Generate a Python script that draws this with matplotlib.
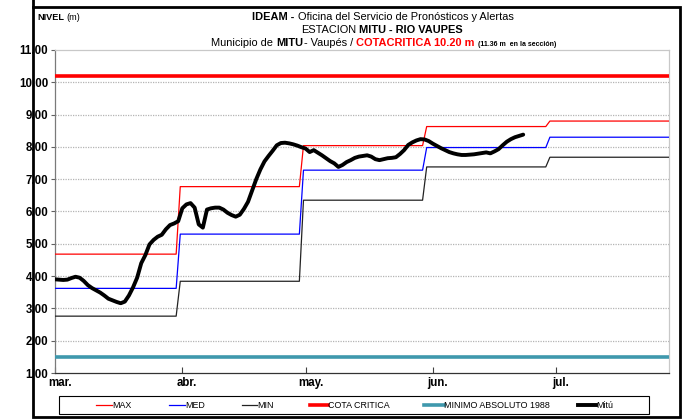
import matplotlib
matplotlib.use("Agg")
import matplotlib.pyplot as plt
from matplotlib import font_manager
from matplotlib.lines import Line2D
from matplotlib.patches import Rectangle
import numpy as np

# ---------------------------------------------------------------- data
month_days = [0, 31, 61, 92, 122]
month_labels = ["mar.", "abr.", "may.", "jun.", "jul."]

# climatological monthly levels (m); a new month level starts on these days
step_days = [30, 60, 90, 120]
max_vals = [4.68, 6.77, 8.04, 8.63, 8.80]
med_vals = [3.62, 5.30, 7.28, 7.98, 8.30]
min_vals = [2.76, 3.84, 6.35, 7.38, 7.68]

cota_critica = 10.20
minimo_absoluto = 1.48

# daily level at Mitú (m), day 0 = 1 March
mitu = [3.90, 3.89, 3.88, 3.89, 3.94, 3.98, 3.95, 3.85, 3.72, 3.63,
        3.56, 3.49, 3.40, 3.30, 3.25, 3.20, 3.16, 3.21, 3.40, 3.65,
        3.95, 4.40, 4.65, 4.98, 5.12, 5.22, 5.28, 5.45, 5.58, 5.63,
        5.70, 6.10, 6.22, 6.26, 6.12, 5.60, 5.50, 6.06, 6.10, 6.12,
        6.12, 6.06, 5.96, 5.89, 5.84, 5.90, 6.08, 6.30, 6.65, 7.00,
        7.30, 7.55, 7.72, 7.88, 8.05, 8.12, 8.13, 8.11, 8.08, 8.04,
        7.99, 7.95, 7.84, 7.90, 7.82, 7.74, 7.65, 7.56, 7.49, 7.38,
        7.44, 7.53, 7.59, 7.66, 7.70, 7.72, 7.74, 7.70, 7.62, 7.59,
        7.62, 7.65, 7.66, 7.68, 7.78, 7.90, 8.06, 8.14, 8.20, 8.24,
        8.23, 8.18, 8.10, 8.03, 7.96, 7.90, 7.84, 7.80, 7.77, 7.75,
        7.75, 7.76, 7.77, 7.79, 7.81, 7.83, 7.80, 7.86, 7.93, 8.05,
        8.16, 8.24, 8.30, 8.34, 8.38]

y_ticks = [1, 2, 3, 4, 5, 6, 7, 8, 9, 10, 11]
x_end = 149.5

# ---------------------------------------------------------------- fonts
names = {f.name for f in font_manager.fontManager.ttflist}
REG = "Liberation Sans" if "Liberation Sans" in names else "DejaVu Sans"
NAR = "Liberation Sans Narrow" if "Liberation Sans Narrow" in names else REG
TS = 8.8 if NAR != REG else 7.9     # header text size
LS = 7.0 if NAR != REG else 6.4     # legend text size

W, H = 686, 420
fig = plt.figure(figsize=(W / 100, H / 100), dpi=100)


def fx(px):
    return px / W


def fy(py):
    return 1 - py / H


# plot area
L, R, T, B = 55, 669, 50, 373
ax = fig.add_axes([fx(L), fy(B), fx(R) - fx(L), fy(T) - fy(B)])


def step_line(vals):
    xs, ys = [0.0], [vals[0]]
    for d, v0, v1 in zip(step_days, vals[:-1], vals[1:]):
        xs += [d - 0.5, d + 0.5]
        ys += [v0, v1]
    xs.append(x_end)
    ys.append(vals[-1])
    return xs, ys


# gridlines
for v in y_ticks[1:-1]:
    ax.axhline(v, color="#b4b4b4", lw=0.9, ls=(0, (1, 1)), zorder=1)

ax.axhline(cota_critica, color="#ff0000", lw=2.6, zorder=3)
ax.axhline(minimo_absoluto, color="#3f98ad", lw=2.6, zorder=3)

xs, ys = step_line(max_vals)
ax.plot(xs, ys, color="#ff0000", lw=0.9, zorder=4)
xs, ys = step_line(med_vals)
ax.plot(xs, ys, color="#0000ff", lw=0.9, zorder=4)
xs, ys = step_line(min_vals)
ax.plot(xs, ys, color="#222222", lw=0.9, zorder=4)

ax.plot(np.arange(len(mitu)), mitu, color="black", lw=2.8,
        solid_joinstyle="round", solid_capstyle="round", zorder=5)

ax.set_xlim(0, x_end)
ax.set_ylim(1, 11)
ax.set_yticks(y_ticks)
ax.set_yticklabels([f"{v:.2f}" for v in y_ticks], fontfamily=REG,
                   fontweight="bold", fontsize=8.3)
ax.set_xticks(month_days)
ax.set_xticklabels([])
ax.tick_params(axis="y", direction="out", length=3, width=0.8,
               color="#606060", pad=2)
ax.tick_params(axis="x", direction="in", length=4, width=0.8,
               color="#404040")
for d, lab in zip(month_days, month_labels):
    ax.text(d + 1.2, -0.013, lab, transform=ax.get_xaxis_transform(),
            ha="center", va="top", fontfamily=REG, fontweight="bold",
            fontsize=8.3)

ax.spines["left"].set_color("#7a7a7a")
ax.spines["bottom"].set_color("#333333")
ax.spines["top"].set_color("#c8c8c8")
ax.spines["right"].set_color("#c8c8c8")
for s in ax.spines.values():
    s.set_linewidth(0.9)

# ---------------------------------------------------------------- header
renderer = fig.canvas.get_renderer()


def rich_line(parts, x_anchor, y_base, align="center"):
    made = []
    for text, weight, color, size, gap in parts:
        t = fig.text(0, fy(y_base), text, fontfamily=NAR, fontweight=weight,
                     color=color, fontsize=size, va="baseline", ha="left")
        w = t.get_window_extent(renderer).width
        made.append((t, w, gap))
    total = sum(w + g for _, w, g in made)
    x = x_anchor - total / 2 if align == "center" else x_anchor
    for t, w, g in made:
        x += g
        t.set_x(fx(x))
        x += w


rich_line([("NIVEL", "bold", "black", 6.6, 0),
           ("(m)", "normal", "black", 6.6, 2)], 37, 20, align="left")

rich_line([("IDEAM -", "bold", "black", TS, 0),
           ("Oficina del Servicio de Pronósticos y Alertas", "normal",
            "black", TS, 3)], 383, 20)
rich_line([("ESTACION", "normal", "black", TS, 0),
           ("MITU - RIO VAUPES", "bold", "black", TS, 2)], 382, 33)
rich_line([("Municipio de", "normal", "black", TS, 0),
           ("MITU", "bold", "black", TS, 3),
           ("- Vaupés /", "normal", "black", TS, 1),
           ("COTACRITICA 10.20 m", "bold", "#ff0000", TS, 3),
           ("(11.36 m  en la sección)", "bold", "black", 5.0, 4)], 384, 46)

# ---------------------------------------------------------------- legend
fig.add_artist(Rectangle((fx(59), fy(414)), fx(649) - fx(59), fy(396) - fy(414),
                         transform=fig.transFigure, fill=False,
                         edgecolor="black", lw=0.8))
legend_items = [("MAX", "#ff0000", 0.9, 96, 112),
                ("MED", "#0000ff", 0.9, 169, 185),
                ("MIN", "#222222", 0.9, 242, 257),
                ("COTA CRITICA", "#ff0000", 2.6, 310, 328),
                ("MINIMO ABSOLUTO 1988", "#3f98ad", 2.6, 424, 444),
                ("Mitú", "black", 2.8, 578, 596)]
ly = 405
for lab, col, lw, x0, x1 in legend_items:
    fig.add_artist(Line2D([fx(x0), fx(x1)], [fy(ly), fy(ly)],
                          transform=fig.transFigure, color=col, lw=lw))
    fig.text(fx(x1), fy(ly), lab, fontfamily=NAR, fontsize=LS,
             va="center", ha="left")

# ---------------------------------------------------------------- frame
fig.add_artist(Rectangle((fx(33), fy(417)), fx(680) - fx(33), fy(7) - fy(417),
                         transform=fig.transFigure, fill=False,
                         edgecolor="black", lw=2.0))
fig.add_artist(Line2D([fx(33), fx(33)], [fy(0), fy(7)],
                      transform=fig.transFigure, color="black", lw=2.0))

fig.savefig("out.png", dpi=100)
